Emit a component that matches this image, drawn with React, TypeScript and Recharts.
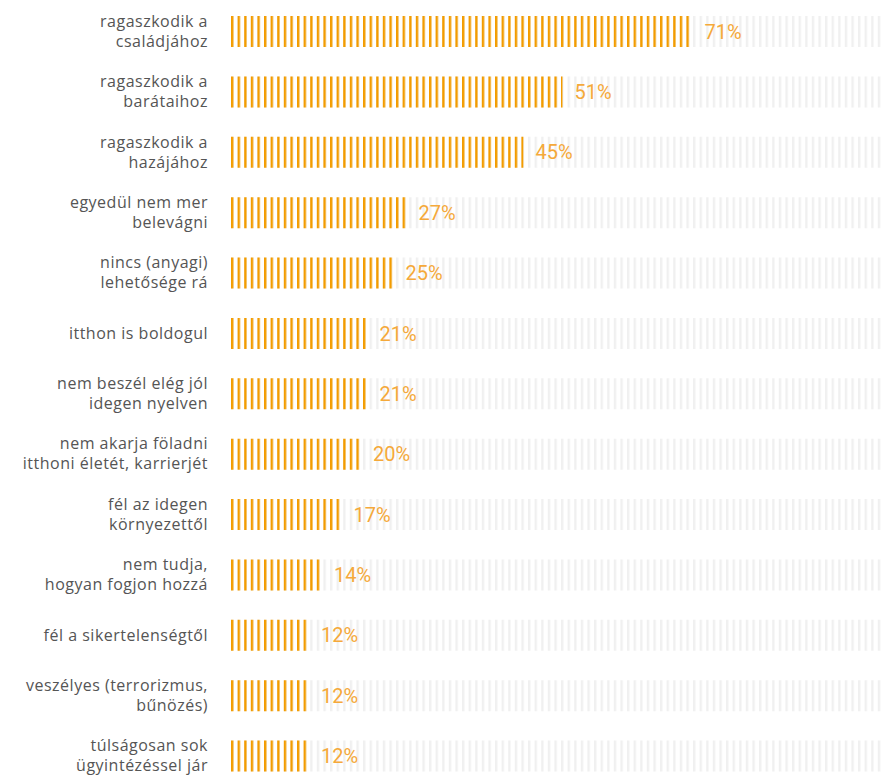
import React from 'react';
import { BarChart, Bar, XAxis, YAxis, LabelList } from 'recharts';

const categories = [
  'ragaszkodik a\ncsaládjához',
  'ragaszkodik a\nbarátaihoz',
  'ragaszkodik a\nhazájához',
  'egyedül nem mer\nbelevágni',
  'nincs (anyagi)\nlehetősége rá',
  'itthon is boldogul',
  'nem beszél elég jól\nidegen nyelven',
  'nem akarja föladni\nitthoni életét, karrierjét',
  'fél az idegen\nkörnyezettől',
  'nem tudja,\nhogyan fogjon hozzá',
  'fél a sikertelenségtől',
  'veszélyes (terrorizmus,\nbűnözés)',
  'túlságosan sok\nügyintézéssel jár',
];

const values = [71, 51, 45, 27, 25, 21, 21, 20, 17, 14, 12, 12, 12];

const data = categories.map((name, i) => ({ name, value: values[i] }));

const LABEL_FONT = '"Open Sans", "Noto Sans", sans-serif';
const VALUE_FONT = 'Roboto, "Noto Sans", sans-serif';

const CategoryTick = (props: any) => {
  const { x, y, payload } = props;
  const lines: string[] = String(payload.value).split('\n');
  const start = -((lines.length - 1) * 20) / 2;
  return (
    <g transform={`translate(${x},${y})`}>
      {lines.map((line, i) => (
        <text
          key={i}
          x={0}
          y={start + i * 20}
          dy="0.35em"
          textAnchor="end"
          fill="#555"
          fontSize={16}
          letterSpacing={0.5}
          fontFamily={LABEL_FONT}
        >
          {line}
        </text>
      ))}
    </g>
  );
};

const App = () => {
  return (
    <div style={{ position: 'absolute', left: 0, top: 0 }}>
      <BarChart
        width={884}
        height={786}
        data={data}
        layout="vertical"
        margin={{ top: 1, right: 3, left: 0, bottom: 0 }}
        barSize={31}
      >
        <defs>
          <pattern id="orangeStripes" patternUnits="userSpaceOnUse" x={231} y={0} width={6.6} height={10}>
            <rect x={0} y={0} width={2.4} height={10} fill="#f39c00" />
          </pattern>
          <pattern id="grayStripes" patternUnits="userSpaceOnUse" x={231} y={0} width={6.6} height={10}>
            <rect x={0} y={0} width={2.4} height={10} fill="#f0f0f0" />
          </pattern>
        </defs>
        <XAxis type="number" domain={[0, 100]} hide />
        <YAxis
          type="category"
          dataKey="name"
          width={231}
          axisLine={false}
          tickLine={false}
          tickSize={0}
          tickMargin={23}
          interval={0}
          tick={<CategoryTick />}
        />
        <Bar
          dataKey="value"
          fill="url(#orangeStripes)"
          background={{ fill: 'url(#grayStripes)' }}
          isAnimationActive={false}
        >
          <LabelList
            dataKey="value"
            position="right"
            offset={12}
            formatter={(v: any) => `${v}%`}
            fill="#f5a93a"
            fontSize={20}
            fontFamily={VALUE_FONT}
          />
        </Bar>
      </BarChart>
    </div>
  );
};

export default App;
